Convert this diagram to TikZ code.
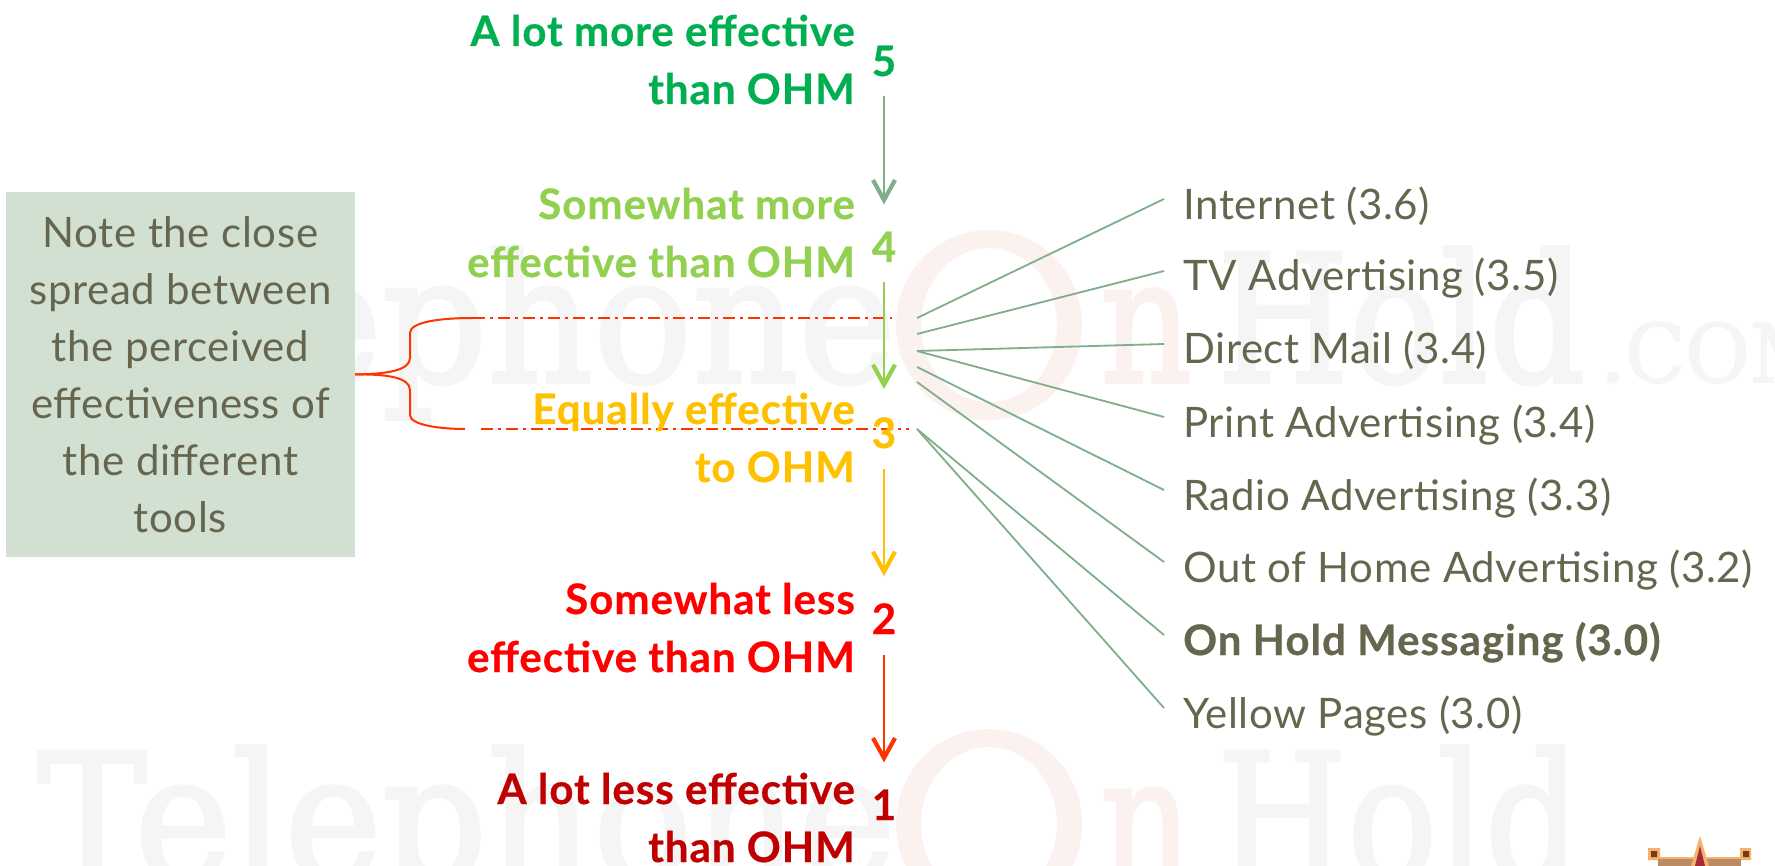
\documentclass[tikz,border=0pt]{standalone}
\usepackage{fontspec}
\usepackage{graphicx}
\usetikzlibrary{arrows.meta}
\setmainfont{Lato}[LetterSpace=1.5,BoldFeatures={LetterSpace=2.4,FakeBold=0.6}]
\newfontfamily\wmfont{DejaVu Serif}[FakeBold=2]
\definecolor{txt}{HTML}{66664F}
\definecolor{fan}{HTML}{7FAE8A}
\definecolor{boxc}{HTML}{D2E0D2}
\definecolor{wmg}{HTML}{F5F5F5}
\definecolor{wmp}{HTML}{FBF2F0}
\definecolor{c5}{HTML}{00B050}
\definecolor{c4}{HTML}{92D050}
\definecolor{c3}{HTML}{FFC000}
\definecolor{c2}{HTML}{FF0000}
\definecolor{c1}{HTML}{C00000}
\definecolor{rd}{HTML}{FF3300}
\definecolor{logoa}{HTML}{F4B26B}
\definecolor{logob}{HTML}{7A3A1A}
\definecolor{logoc}{HTML}{BC8A63}
\definecolor{logod}{HTML}{A52A3A}
\tikzset{
 x=1pt,y=-1pt,
 lab/.style={anchor=base east,inner sep=0pt,font=\fontsize{42}{42}\selectfont\bfseries},
 dig/.style={anchor=base,inner sep=0pt,font=\fontsize{42}{42}\selectfont\bfseries},
 item/.style={anchor=base west,inner sep=0pt,font=\fontsize{42}{42}\selectfont,text=txt},
 fanline/.style={draw=fan,line width=1.8pt},
 scalearrow/.style={line width=1.6pt,-{Straight Barb[length=20pt,width=22pt,line width=4.2pt]}},
 wm/.style={anchor=base west,inner sep=0pt,font=\wmfont},
 ring/.style={fill=wmp,even odd rule},
 brace/.style={draw=rd,line width=2pt},
 spread/.style={draw=rd,line width=1.6pt,dash pattern=on 12pt off 5pt on 3pt off 5pt},
}
\newcommand{\wmtxt}[3]{\resizebox{#1pt}{#2pt}{#3}}
\begin{document}
\begin{tikzpicture}
\useasboundingbox (0,0) rectangle (1775,866);
\clip (0,0) rectangle (1775,866);
\fill[white] (0,0) rectangle (1775,866);
% watermarks
\node[wm,text=wmg] (wa) at (37,382) {\wmtxt{858}{135}{Telephone}};
\path[ring] (989,325) ellipse [x radius=93,y radius=95] (989,325) ellipse [x radius=68,y radius=77];
\node[wm,text=wmp] (wb) at (1100,382) {\wmtxt{92}{93}{n}};
\node[wm,text=wmg] (wc) at (1217,382) {\wmtxt{368}{135}{Hold}};
\node[wm,text=wmg] (wd) at (1600,382) {\wmtxt{230}{60}{.COM}};
\node[wm,text=wmg] (we) at (37,881) {\wmtxt{858}{135}{Telephone}};
\path[ring] (989,824) ellipse [x radius=93,y radius=95] (989,824) ellipse [x radius=68,y radius=77];
\node[wm,text=wmp] (wf) at (1100,881) {\wmtxt{92}{93}{n}};
\node[wm,text=wmg] (wg) at (1217,881) {\wmtxt{363}{135}{Hold}};
% logo
\fill[white] (1640,825) rectangle (1775,866);
\fill[logoa] (1648,848) rectangle (1660,860) (1740,848) rectangle (1751,860);
\fill[logob] (1651,851) rectangle (1657,857) (1743,851) rectangle (1749,857);
\fill[logoc] (1658,859) rectangle (1741,866);
\draw[logoa,line width=1.5pt] (1658,858) -- (1741,858);
\fill[logoa] (1700,836) -- (1709,866) -- (1691,866) -- cycle;
\fill[logod] (1700,846) -- (1705,866) -- (1695,866) -- cycle;
% note box
\node[fill=boxc,minimum width=349pt,minimum height=365pt,inner sep=0pt,text=txt,align=center,
  font=\fontsize{42}{57}\selectfont] (note) at (180.5,374.5)
  {\raisebox{-3pt}{Note the close}\\\raisebox{-3pt}{spread between}\\\raisebox{-3pt}{the perceived}\\\raisebox{-3pt}{effectiveness of}\\\raisebox{-3pt}{the different}\\\raisebox{-3pt}{tools}};
% brace and spread lines
\coordinate (bu) at (473,318);
\coordinate (bl) at (465,429);
\coordinate (su) at (892,318);
\coordinate (sl) at (909,429);
\draw[brace] (note.east) .. controls (385,374) and (410,371) .. (410,358) -- (410,333) .. controls (410,322) and (440,318) .. (bu);
\draw[brace] (note.east) .. controls (385,374) and (410,377) .. (410,390) -- (410,415) .. controls (410,425) and (440,429) .. (bl);
\draw[spread] (bu) -- (su);
\draw[spread] ([xshift=16pt]bl) -- (sl);
% scale labels
\node[lab,text=c5] (l5a) at (855,46) {A lot more effective};
\node[lab,text=c5] (l5b) at (855,104) {than OHM};
\node[lab,text=c4] (l4a) at (855,219) {Somewhat more};
\node[lab,text=c4] (l4b) at (855,277) {effective than OHM};
\node[lab,text=c3] (l3a) at (855,424) {Equally effective};
\node[lab,text=c3] (l3b) at (855,482) {to OHM};
\node[lab,text=c2] (l2a) at (855,614) {Somewhat less};
\node[lab,text=c2] (l2b) at (855,672) {effective than OHM};
\node[lab,text=c1] (l1a) at (855,804) {A lot less effective};
\node[lab,text=c1] (l1b) at (855,862) {than OHM};
% digits
\node[dig,text=c5] (d5) at (884,76) {5};
\node[dig,text=c4] (d4) at (884,262) {4};
\node[dig,text=c3] (d3) at (884,448) {3};
\node[dig,text=c2] (d2) at (884,634) {2};
\node[dig,text=c1] (d1) at (884,820) {1};
\draw[scalearrow,draw=fan,shorten <=19pt,shorten >=27pt] (d5.south) -- (d4.north);
\draw[scalearrow,draw=c4,shorten <=20pt,shorten >=28pt] (d4.south) -- (d3.north);
\draw[scalearrow,draw=c3,shorten <=20pt,shorten >=27pt] (d3.south) -- (d2.north);
\draw[scalearrow,draw=rd,shorten <=21pt,shorten >=27pt] (d2.south) -- (d1.north);
% items
\node[item] (i1) at (1183,220) {Internet (3.6)};
\node[item] (i2) at (1183,291) {TV Advertising (3.5)};
\node[item] (i3) at (1183,364) {Direct Mail (3.4)};
\node[item] (i4) at (1183,437) {Print Advertising (3.4)};
\node[item] (i5) at (1183,510) {Radio Advertising (3.3)};
\node[item] (i6) at (1183,582) {Out of Home Advertising (3.2)};
\node[item,font=\fontsize{42}{42}\selectfont\bfseries] (i7) at (1183,655) {On Hold Messaging (3.0)};
\node[item] (i8) at (1183,728) {Yellow Pages (3.0)};
% fan
\foreach \n/\ys/\ye in {1/318/199,2/334/271,3/351/344,4/351/417,5/367/490,6/382/562,7/429/635,8/429/708}{
  \coordinate (s\n) at (917,\ys);
  \coordinate (e\n) at (1164,\ye);
  \draw[fanline] (s\n) -- (e\n);
}
\end{tikzpicture}
\end{document}
